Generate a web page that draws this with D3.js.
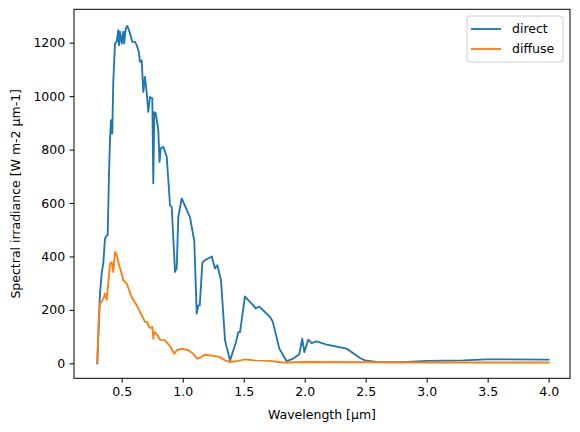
<!DOCTYPE html>
<html>
<head>
<meta charset="utf-8">
<script src="https://cdn.jsdelivr.net/npm/d3@7"></script>
<style>
  body { margin: 0; background: white; }
  svg { font-family: "DejaVu Sans", sans-serif; }
</style>
</head>
<body>
<svg id="chart" width="580" height="432"></svg>
<script>
// direct beam spectrum (wavelength in µm, irradiance in W m-2 µm-1)
var directWl = [0.3, 0.305, 0.315, 0.322, 0.336, 0.35, 0.363, 0.377, 0.385, 0.396, 0.404, 0.412, 0.423, 0.431, 0.445, 0.459, 0.472, 0.478, 0.486, 0.5, 0.513, 0.52, 0.533, 0.546, 0.568, 0.587, 0.609, 0.623, 0.64, 0.65, 0.664, 0.677, 0.691, 0.705, 0.718, 0.732, 0.751, 0.759, 0.767, 0.779, 0.8, 0.81, 0.82, 0.841, 0.869, 0.888, 0.896, 0.91, 0.937, 0.951, 0.964, 0.992, 1.06, 1.095, 1.115, 1.128, 1.14, 1.161, 1.183, 1.224, 1.238, 1.265, 1.284, 1.314, 1.347, 1.388, 1.434, 1.456, 1.47, 1.51, 1.552, 1.579, 1.598, 1.625, 1.675, 1.716, 1.738, 1.792, 1.852, 1.907, 1.956, 1.98, 1.997, 2.03, 2.057, 2.098, 2.18, 2.344, 2.453, 2.494, 2.59, 2.8, 3.0, 3.3, 3.49, 4.0]
var directVal = [0, 60, 180, 261, 337, 379, 467, 479, 479, 710, 835, 910, 860, 1054, 1197, 1203, 1247, 1191, 1241, 1197, 1241, 1197, 1253, 1263, 1235, 1203, 1203, 1191, 1166, 1128, 1134, 1016, 1072, 1010, 941, 997, 992, 674, 940, 936, 873, 754, 805, 810, 773, 648, 592, 585, 342, 356, 548, 617, 546, 458, 186, 217, 217, 376, 386, 396, 400, 355, 367, 311, 86, 11, 74, 117, 117, 250, 230, 217, 205, 213, 192, 173, 157, 55, 8, 18, 34, 92, 42, 89, 76, 82, 70, 55, 20, 11, 5, 4, 9, 11, 15, 14]

// diffuse spectrum
var diffuseWl = [0.3, 0.305, 0.315, 0.322, 0.336, 0.35, 0.363, 0.377, 0.39, 0.404, 0.418, 0.431, 0.445, 0.455, 0.464, 0.478, 0.5, 0.513, 0.541, 0.582, 0.623, 0.664, 0.691, 0.71, 0.718, 0.73, 0.751, 0.759, 0.767, 0.785, 0.814, 0.855, 0.896, 0.931, 0.951, 0.992, 1.046, 1.087, 1.115, 1.14, 1.169, 1.183, 1.265, 1.3, 1.347, 1.388, 1.456, 1.51, 1.59, 1.716, 1.8, 1.85, 2.0, 2.5, 3.0, 4.0]
var diffuseVal = [5, 80, 200, 224, 230, 242, 261, 238, 300, 373, 379, 342, 417, 410, 398, 367, 336, 311, 298, 248, 217, 180, 155, 155, 142, 133, 136, 92, 117, 111, 89, 86, 64, 36, 49, 55, 49, 36, 18, 20, 30, 32, 27, 24, 11, 5, 9, 15, 11, 9, 4, 3, 5, 4, 3, 3]

var xTicks = [0.5, 1.0, 1.5, 2.0, 2.5, 3.0, 3.5, 4.0]
var yTicks = [0, 200, 400, 600, 800, 1000, 1200]
var seriesNames = ["direct", "diffuse"]
var seriesColors = ["#1f77b4", "#ff7f0e"]

var dims = {
    left: 74,
    right: 570,
    top: 9.3,
    bottom: 378.3
}

var svg = d3.select("#chart")

var xScale = d3.scaleLinear()
        .domain([0.109, 4.175])
        .range([dims.left, dims.right])

var yScale = d3.scaleLinear()
        .domain([-56, 1325])
        .range([dims.bottom, dims.top])

var line = d3.line()
        .x(d => xScale(d[0]))
        .y(d => yScale(d[1]))

var series = [
    d3.zip(directWl, directVal),
    d3.zip(diffuseWl, diffuseVal)
]

// lines, clipped to the axes box
svg.append("clipPath").attr("id", "clip")
    .append("rect")
    .attr("x", dims.left).attr("y", dims.top)
    .attr("width", dims.right - dims.left)
    .attr("height", dims.bottom - dims.top)

svg.append("g").attr("clip-path", "url(#clip)")
    .selectAll("path")
    .data(series)
    .enter()
    .append("path")
    .attr("d", line)
    .attr("fill", "none")
    .attr("stroke", (d, i) => seriesColors[i])
    .attr("stroke-width", 1.875)
    .attr("stroke-linejoin", "round")
    .attr("stroke-linecap", "square")

// axes
var xAxis = svg.append("g")
        .attr("transform", `translate(0, ${dims.bottom})`)
        .call(d3.axisBottom(xScale).tickValues(xTicks).tickFormat(d3.format(".1f")).tickSize(4.4).tickPadding(4.4))

var yAxis = svg.append("g")
        .attr("transform", `translate(${dims.left}, 0)`)
        .call(d3.axisLeft(yScale).tickValues(yTicks).tickFormat(d3.format("d")).tickSize(4.4).tickPadding(4.4))

svg.selectAll(".domain").remove()
svg.selectAll(".tick line").attr("stroke", "black").attr("stroke-width", 1)
svg.selectAll(".tick text")
    .attr("font-family", "DejaVu Sans")
    .attr("font-size", 12.5)
    .attr("fill", "black")

// frame
svg.append("rect")
    .attr("x", dims.left).attr("y", dims.top)
    .attr("width", dims.right - dims.left)
    .attr("height", dims.bottom - dims.top)
    .attr("fill", "none")
    .attr("stroke", "black")
    .attr("stroke-width", 1)

// axis titles
svg.append("text")
    .attr("x", (dims.left + dims.right) / 2)
    .attr("y", 419)
    .attr("text-anchor", "middle")
    .attr("font-size", 12.5)
    .text("Wavelength [µm]")

svg.append("text")
    .attr("transform", `translate(20, ${(dims.top + dims.bottom) / 2}) rotate(-90)`)
    .attr("text-anchor", "middle")
    .attr("font-size", 12.5)
    .text("Spectral irradiance [W m-2 μm-1]")

// legend
var legend = svg.append("g")
legend.append("rect")
    .attr("x", 467).attr("y", 16)
    .attr("width", 96).attr("height", 46)
    .attr("rx", 3)
    .attr("fill", "white")
    .attr("fill-opacity", 0.8)
    .attr("stroke", "#cccccc")
    .attr("stroke-width", 1)

var items = legend.selectAll("g.item")
        .data(seriesNames)
        .enter()
        .append("g")
        .attr("transform", (d, i) => `translate(0, ${29 + i * 20})`)

items.append("line")
    .attr("x1", 471).attr("x2", 501)
    .attr("stroke", (d, i) => seriesColors[i])
    .attr("stroke-width", 1.875)

items.append("text")
    .attr("x", 512)
    .attr("dy", "0.35em")
    .attr("font-size", 12.5)
    .text(d => d)
</script>
</body>
</html>
